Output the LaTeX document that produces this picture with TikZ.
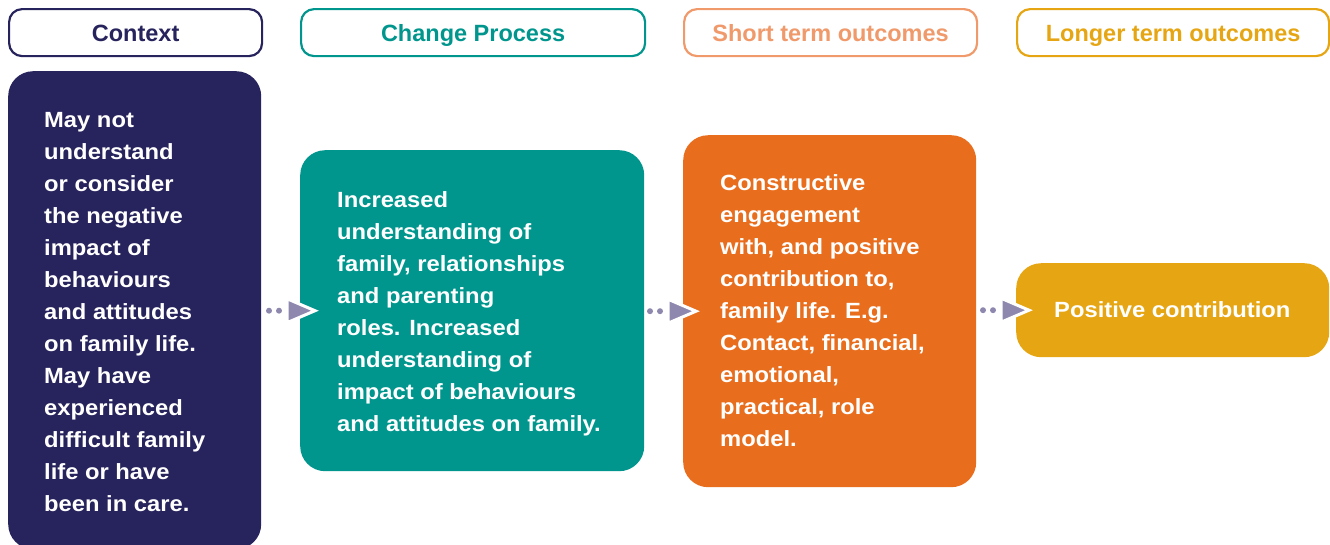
\documentclass[tikz,border=0pt]{standalone}
\usepackage{fontspec}
\setmainfont{Liberation Sans}[FakeStretch=1.08]
\newfontfamily\hdrfont{Liberation Sans}
\definecolor{navy}{HTML}{27235C}
\definecolor{teal2}{HTML}{00968D}
\definecolor{orng}{HTML}{E86E1E}
\definecolor{salmon}{HTML}{F09A6C}
\definecolor{gold}{HTML}{E6A614}
\definecolor{arrowc}{HTML}{8E87AE}
\newcommand{\bodytext}[1]{\parbox[t]{300pt}{#1}}
\tikzset{
  header/.style={draw=#1, text=#1, line width=2.2pt, rounded corners=13pt, anchor=north west,
    inner sep=0pt, text height=17pt, text depth=0pt,
    font=\hdrfont\fontsize{23.5}{26}\selectfont\bfseries, fill=white},
  panel/.style={fill=#1, draw=none, rounded corners=25pt, anchor=north west, inner sep=0pt},
  btext/.style={anchor=base west, inner sep=0pt, text=white,
    font=\fontsize{22}{32}\selectfont\bfseries},
}
\newcommand{\flowarrow}[2]{% #1 target node name, #2 tip offset
  \fill[arrowc] ($(#1.west)+(#2-46,0)$) circle (3pt);
  \fill[arrowc] ($(#1.west)+(#2-36,0)$) circle (3pt);
  \draw[white, line width=3pt, fill=arrowc, line join=miter]
    ($(#1.west)+(#2-28,-12)$) -- ($(#1.west)+(#2,0)$) -- ($(#1.west)+(#2-28,12)$) -- cycle;
}
\usetikzlibrary{calc}
\begin{document}
\begin{tikzpicture}[x=1pt,y=-1pt]
\useasboundingbox (0,0) rectangle (1330,544);
% headers
\node[header=navy, minimum width=253pt, minimum height=47pt] (hctx) at (8,8) {Context};
\node[header=teal2, minimum width=344pt, minimum height=47pt] (hchg) at (300,8) {Change Process};
\node[header=salmon, minimum width=293pt, minimum height=47pt] (hsht) at (683,8) {Short term outcomes};
\node[header=gold, minimum width=312pt, minimum height=47pt] (hlng) at (1016,8) {Longer term outcomes};
% panels
\node[panel=navy, minimum width=253pt, minimum height=478pt] (ctx) at (8,71) {};
\node[panel=teal2, minimum width=344pt, minimum height=321pt] (chg) at (300,150) {};
\node[panel=orng, minimum width=293pt, minimum height=352pt] (sht) at (683,135) {};
\node[panel=gold, minimum width=313pt, minimum height=94pt] (lng) at (1016,263) {};
% texts
\node[btext] (tctx) at (44,127) {\bodytext{May not\\ understand\\ or consider\\ the negative\\ impact of\\ behaviours\\ and attitudes\\ on family life.\\ May have\\ experienced\\ difficult family\\ life or have\\ been in care.}};
\node[btext] (tchg) at (337,207) {\bodytext{Increased\\ understanding of\\ family, relationships\\ and parenting\\ roles. Increased\\ understanding of\\ impact of behaviours\\ and attitudes on family.}};
\node[btext] (tsht) at (720,190) {\bodytext{Constructive\\ engagement\\ with, and positive\\ contribution to,\\ family life. E.g.\\ Contact, financial,\\ emotional,\\ practical, role\\ model.}};
\node[btext] (tlng) at (1054,317) {\bodytext{Positive contribution}};
% arrows
\flowarrow{chg}{15}
\flowarrow{sht}{13}
\flowarrow{lng}{13}
\end{tikzpicture}
\end{document}
